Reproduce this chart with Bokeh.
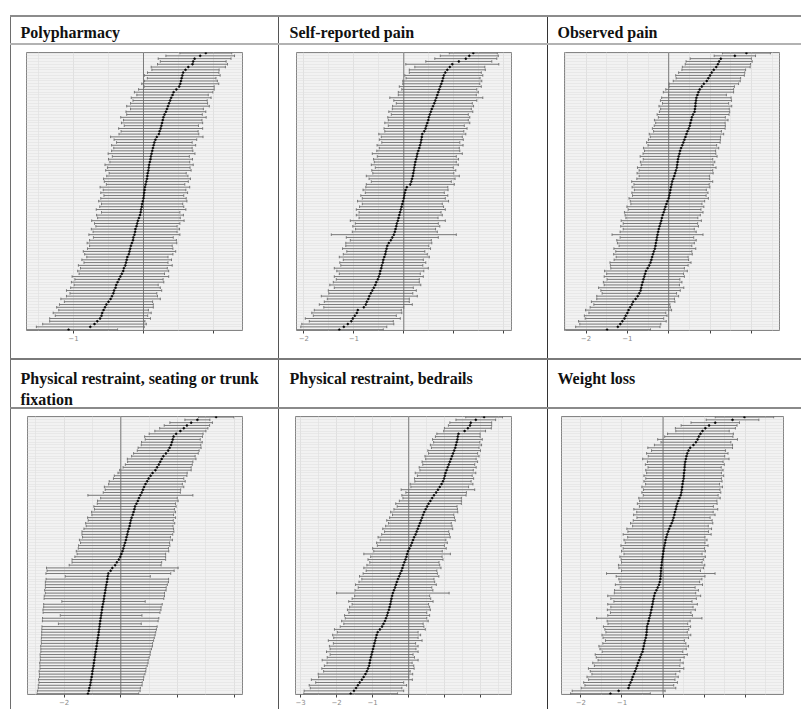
import numpy as np
from bokeh.plotting import figure
from bokeh.models import (ColumnDataSource, Range1d, FixedTicker, Grid, Whisker,
                          TeeHead, Span, Label, Div)
from bokeh.layouts import row, column
from bokeh.embed import file_html
from bokeh.resources import INLINE

# ---------------- data (random-effect estimates, sorted, and CI half-widths) -------------
titles_row1 = ["Polypharmacy", "Self-reported pain", "Observed pain"]
titles_row2 = [["Physical restraint, seating or trunk", "fixation"],
               ["Physical restraint, bedrails"], ["Weight loss"]]

est_poly = [-1.07, -0.76, -0.70, -0.66, -0.62, -0.60, -0.59, -0.57, -0.55, -0.53,
            -0.50, -0.47, -0.45, -0.43, -0.42, -0.40, -0.39, -0.37, -0.35, -0.33,
            -0.31, -0.29, -0.28, -0.26, -0.25, -0.24, -0.23, -0.21, -0.20, -0.19,
            -0.18, -0.165, -0.15, -0.145, -0.13, -0.12, -0.115, -0.10, -0.09, -0.08,
            -0.065, -0.05, -0.04, -0.035, -0.025, -0.02, -0.01, 0.0, 0.005, 0.01,
            0.015, 0.02, 0.03, 0.04, 0.05, 0.055, 0.06, 0.07, 0.075, 0.08,
            0.09, 0.10, 0.105, 0.115, 0.125, 0.135, 0.145, 0.155, 0.17, 0.19,
            0.22, 0.23, 0.245, 0.255, 0.265, 0.275, 0.285, 0.30, 0.32, 0.335,
            0.35, 0.365, 0.38, 0.395, 0.415, 0.43, 0.47, 0.51, 0.525, 0.535,
            0.545, 0.555, 0.567, 0.60, 0.64, 0.70, 0.71, 0.73, 0.81, 0.89]
hw_poly = [0.70, 0.77, 0.74, 0.68, 0.72, 0.66, 0.70, 0.64, 0.69, 0.67,
           0.63, 0.71, 0.65, 0.62, 0.68, 0.64, 0.60, 0.66, 0.63, 0.69,
           0.61, 0.65, 0.62, 0.67, 0.60, 0.64, 0.58, 0.63, 0.66, 0.61,
           0.59, 0.64, 0.62, 0.57, 0.65, 0.60, 0.63, 0.58, 0.61, 0.66,
           0.59, 0.62, 0.56, 0.64, 0.60, 0.58, 0.63, 0.61, 0.57, 0.62,
           0.59, 0.64, 0.56, 0.60, 0.62, 0.58, 0.55, 0.61, 0.59, 0.63,
           0.57, 0.60, 0.55, 0.62, 0.58, 0.56, 0.60, 0.54, 0.59, 0.66,
           0.57, 0.55, 0.60, 0.53, 0.58, 0.56, 0.61, 0.54, 0.57, 0.52,
           0.59, 0.55, 0.53, 0.57, 0.51, 0.56, 0.54, 0.50, 0.55, 0.52,
           0.49, 0.54, 0.51, 0.48, 0.53, 0.50, 0.47, 0.52, 0.49, 0.37]

est_selfpain = [-1.29, -1.20, -1.12, -1.05, -1.02, -0.98, -0.94, -0.92, -0.80, -0.76,
                -0.74, -0.71, -0.69, -0.66, -0.63, -0.60, -0.57, -0.55, -0.52, -0.50,
                -0.48, -0.47, -0.45, -0.44, -0.42, -0.41, -0.39, -0.37, -0.36, -0.345,
                -0.33, -0.30, -0.26, -0.23, -0.20, -0.18, -0.165, -0.15, -0.14, -0.12,
                -0.105, -0.09, -0.075, -0.06, -0.045, -0.03, -0.015, 0.0, 0.01, 0.02,
                0.035, 0.06, 0.13, 0.15, 0.165, 0.18, 0.19, 0.20, 0.21, 0.22,
                0.23, 0.245, 0.26, 0.27, 0.29, 0.31, 0.325, 0.34, 0.35, 0.36,
                0.37, 0.41, 0.435, 0.45, 0.47, 0.49, 0.50, 0.52, 0.54, 0.56,
                0.585, 0.61, 0.63, 0.65, 0.67, 0.69, 0.71, 0.73, 0.75, 0.77,
                0.785, 0.80, 0.83, 0.87, 0.92, 0.97, 1.10, 1.24, 1.31, 1.39]
hw_selfpain = [0.88, 0.86, 0.92, 0.84, 0.95, 0.83, 0.90, 0.87, 0.80, 0.93,
               0.85, 0.82, 0.96, 0.84, 0.88, 0.79, 0.91, 0.86, 0.83, 0.89,
               0.81, 0.87, 0.94, 0.82, 0.86, 0.80, 0.90, 0.84, 0.78, 0.88,
               0.83, 0.86, 0.81, 0.92, 1.25, 0.85, 0.80, 0.87, 0.83, 0.95,
               0.79, 0.86, 0.82, 0.89, 0.84, 0.80, 0.91, 0.83, 0.87, 0.79,
               0.85, 0.82, 0.88, 0.80, 0.86, 0.93, 0.81, 0.84, 0.78, 0.87,
               0.82, 0.85, 0.79, 0.90, 0.83, 0.80, 0.86, 0.78, 0.84, 0.81,
               0.87, 0.79, 0.83, 0.76, 0.85, 0.80, 0.82, 0.77, 0.84, 0.79,
               0.81, 0.76, 0.83, 0.93, 0.78, 0.80, 0.75, 0.82, 0.77, 0.79,
               0.74, 0.78, 0.72, 0.76, 0.70, 0.93, 0.66, 0.62, 0.58, 0.48]

est_obspain = [-1.49, -1.23, -1.17, -1.12, -1.07, -1.04, -1.00, -0.97, -0.93, -0.89,
               -0.86, -0.80, -0.75, -0.71, -0.68, -0.665, -0.65, -0.63, -0.61, -0.59,
               -0.57, -0.55, -0.51, -0.47, -0.44, -0.42, -0.40, -0.38, -0.36, -0.335,
               -0.32, -0.31, -0.295, -0.285, -0.27, -0.255, -0.24, -0.22, -0.20, -0.18,
               -0.165, -0.145, -0.12, -0.10, -0.08, -0.055, -0.03, 0.0, 0.015, 0.03,
               0.04, 0.055, 0.07, 0.085, 0.11, 0.135, 0.155, 0.175, 0.195, 0.205,
               0.215, 0.225, 0.24, 0.26, 0.275, 0.30, 0.33, 0.355, 0.38, 0.405,
               0.43, 0.455, 0.485, 0.51, 0.525, 0.545, 0.56, 0.59, 0.625, 0.635,
               0.645, 0.65, 0.66, 0.67, 0.695, 0.72, 0.75, 0.80, 0.85, 0.92,
               0.96, 1.00, 1.04, 1.09, 1.15, 1.19, 1.22, 1.26, 1.60, 1.88]
hw_obspain = [1.05, 1.02, 0.98, 1.06, 0.95, 1.00, 0.93, 1.04, 0.97, 0.92,
              1.01, 0.94, 0.99, 0.90, 0.96, 1.03, 0.91, 0.95, 0.88, 0.97,
              0.93, 1.00, 0.89, 0.94, 0.98, 0.90, 0.87, 0.95, 0.92, 0.99,
              0.88, 0.93, 0.96, 0.89, 1.10, 0.92, 0.86, 0.94, 0.90, 0.97,
              0.87, 0.91, 0.95, 0.88, 0.93, 0.86, 0.90, 0.96, 0.89, 0.92,
              0.87, 0.94, 0.91, 0.98, 0.88, 0.85, 0.92, 0.89, 0.95, 0.87,
              0.90, 0.84, 0.93, 0.88, 0.86, 0.91, 0.83, 0.89, 0.87, 0.85,
              0.90, 0.82, 0.88, 0.86, 0.84, 0.89, 0.81, 0.87, 0.85, 0.83,
              0.88, 0.80, 0.86, 0.84, 0.70, 0.85, 0.82, 0.79, 0.84, 0.81,
              0.78, 0.83, 0.80, 0.77, 0.82, 0.79, 0.80, 0.74, 0.50, 0.58]

est_seat = [-1.16, -1.13, -1.11, -1.08, -1.065, -1.05, -1.03, -1.01, -1.00, -0.98,
            -0.96, -0.95, -0.935, -0.92, -0.905, -0.89, -0.87, -0.855, -0.84, -0.825,
            -0.81, -0.79, -0.78, -0.765, -0.75, -0.74, -0.725, -0.71, -0.695, -0.68,
            -0.665, -0.65, -0.63, -0.61, -0.595, -0.58, -0.56, -0.545, -0.53, -0.51,
            -0.49, -0.475, -0.46, -0.44, -0.36, -0.30, -0.20, -0.14, -0.07, -0.02,
            0.02, 0.06, 0.09, 0.12, 0.15, 0.18, 0.20, 0.23, 0.25, 0.28,
            0.31, 0.33, 0.35, 0.38, 0.42, 0.45, 0.48, 0.50, 0.55, 0.60,
            0.64, 0.69, 0.74, 0.78, 0.82, 0.87, 0.93, 0.98, 1.05, 1.12,
            1.22, 1.28, 1.34, 1.39, 1.44, 1.50, 1.59, 1.67, 1.72, 1.77,
            1.80, 1.83, 1.86, 1.95, 2.10, 2.22, 2.33, 2.48, 2.70, 3.36]
hw_seat = [1.79, 1.81, 1.80, 1.83, 1.82, 1.85, 1.84, 1.86, 1.88, 1.87,
           1.89, 1.91, 1.90, 1.92, 1.94, 1.93, 1.95, 1.97, 1.96, 1.98,
           1.99, 2.00, 2.01, 2.02, 2.03, 1.46, 2.04, 2.05, 1.44, 2.06,
           2.08, 2.07, 2.09, 1.47, 2.11, 2.12, 2.10, 2.14, 2.13, 2.15,
           2.17, 2.16, 1.50, 2.20, 2.24, 2.32, 1.62, 1.58, 1.65, 1.60,
           1.56, 1.63, 1.59, 1.61, 1.57, 1.64, 1.55, 1.60, 1.62, 1.58,
           1.53, 1.57, 1.50, 1.55, 1.44, 1.48, 1.41, 1.45, 1.38, 1.42,
           1.35, 1.85, 1.36, 1.33, 1.40, 1.30, 1.34, 1.24, 1.28, 1.22,
           1.26, 1.20, 1.18, 1.15, 1.21, 1.12, 1.14, 1.09, 1.11, 1.05,
           1.07, 0.97, 1.02, 0.95, 0.90, 0.85, 0.80, 0.75, 0.44, 0.62]

est_bed = [-1.61, -1.52, -1.46, -1.41, -1.36, -1.30, -1.25, -1.20, -1.16, -1.13,
           -1.10, -1.085, -1.07, -1.05, -1.03, -1.01, -0.99, -0.97, -0.95, -0.93,
           -0.91, -0.89, -0.86, -0.80, -0.74, -0.70, -0.66, -0.63, -0.60, -0.58,
           -0.55, -0.53, -0.51, -0.495, -0.48, -0.46, -0.44, -0.41, -0.38, -0.355,
           -0.33, -0.30, -0.265, -0.235, -0.20, -0.175, -0.15, -0.12, -0.09, -0.065,
           -0.045, -0.02, 0.02, 0.06, 0.09, 0.12, 0.15, 0.19, 0.22, 0.25,
           0.28, 0.31, 0.34, 0.37, 0.40, 0.43, 0.47, 0.51, 0.55, 0.60,
           0.65, 0.70, 0.76, 0.81, 0.86, 0.91, 0.95, 0.98, 1.00, 1.02,
           1.05, 1.08, 1.11, 1.14, 1.17, 1.20, 1.23, 1.26, 1.29, 1.31,
           1.33, 1.35, 1.36, 1.38, 1.55, 1.64, 1.70, 1.72, 1.86, 2.09]
hw_bed = [1.30, 1.38, 1.27, 1.35, 1.22, 1.40, 1.25, 1.31, 1.20, 1.28,
          1.24, 1.18, 1.33, 1.21, 1.15, 1.27, 1.19, 1.23, 1.14, 1.30,
          1.17, 1.22, 1.12, 1.26, 1.16, 1.10, 1.20, 1.13, 1.18, 1.08,
          1.15, 1.11, 1.06, 1.17, 1.09, 1.04, 1.56, 1.08, 1.02, 1.12,
          1.05, 1.00, 1.10, 1.03, 0.98, 1.07, 1.01, 0.96, 1.04, 0.99,
          1.20, 0.95, 1.02, 0.93, 0.98, 0.91, 1.00, 0.94, 0.89, 0.97,
          0.92, 0.87, 0.95, 0.90, 0.85, 0.93, 0.88, 0.83, 0.91, 0.86,
          0.81, 0.89, 0.84, 1.02, 0.80, 0.87, 0.78, 0.82, 0.76, 0.84,
          0.74, 0.79, 0.72, 0.77, 0.70, 0.75, 0.68, 0.73, 0.66, 0.71,
          0.64, 0.69, 0.62, 0.60, 0.58, 0.65, 0.60, 0.58, 0.55, 0.51]

est_weight = [-1.28, -1.08, -0.84, -0.82, -0.79, -0.76, -0.74, -0.71, -0.68, -0.655,
              -0.63, -0.61, -0.58, -0.555, -0.53, -0.50, -0.485, -0.47, -0.455, -0.44,
              -0.42, -0.405, -0.40, -0.395, -0.39, -0.37, -0.35, -0.335, -0.315, -0.30,
              -0.285, -0.27, -0.255, -0.245, -0.23, -0.215, -0.195, -0.16, -0.13, -0.10,
              -0.08, -0.065, -0.06, -0.055, -0.05, -0.045, -0.035, -0.03, -0.02, -0.01,
              0.0, 0.01, 0.02, 0.035, 0.05, 0.06, 0.08, 0.10, 0.125, 0.15,
              0.18, 0.21, 0.235, 0.255, 0.275, 0.29, 0.31, 0.325, 0.345, 0.37,
              0.40, 0.43, 0.445, 0.455, 0.465, 0.475, 0.485, 0.50, 0.505, 0.51,
              0.52, 0.525, 0.53, 0.54, 0.555, 0.57, 0.59, 0.62, 0.66, 0.74,
              0.80, 0.84, 0.87, 0.91, 0.96, 1.03, 1.12, 1.27, 1.69, 1.98]
hw_weight = [0.97, 1.13, 1.15, 1.08, 1.14, 1.05, 1.11, 1.02, 1.09, 1.16,
             1.04, 1.10, 1.00, 1.07, 1.12, 0.98, 1.05, 1.09, 1.01, 0.96,
             1.04, 1.08, 0.99, 1.02, 1.06, 0.97, 1.01, 1.28, 1.03, 0.98,
             1.07, 1.00, 1.09, 0.95, 1.04, 1.13, 0.99, 1.02, 0.91, 1.06,
             0.97, 1.01, 1.08, 1.32, 0.96, 1.03, 1.05, 0.98, 1.00, 1.04,
             0.95, 1.02, 0.99, 1.06, 0.97, 1.01, 0.94, 1.07, 0.98, 1.03,
             0.92, 1.00, 0.96, 0.89, 0.99, 0.93, 1.02, 0.90, 0.97, 0.94,
             0.99, 0.91, 0.96, 0.93, 0.98, 0.90, 0.95, 0.92, 0.97, 0.91,
             0.94, 0.89, 0.96, 0.92, 1.05, 0.93, 0.99, 0.90, 1.03, 0.95,
             0.85, 0.97, 0.83, 0.80, 0.65, 0.73, 0.68, 0.59, 0.64, 0.71]

# axis tick values per panel (major ticks, minor gridlines, labelled ticks)
ticks_poly = [-1, 0, 1];            minor_poly = [-1.5, -0.5, 0.5];            lab_poly = [-1]
ticks_self = [-2, -1, 0, 1, 2];     minor_self = [-1.5, -0.5, 0.5, 1.5];       lab_self = [-2, -1]
ticks_obs = [-2, -1, 0, 1, 2];      minor_obs = [-2.5, -1.5, -0.5, 0.5, 1.5, 2.5]; lab_obs = [-2, -1]
ticks_seat = [-2, 0, 2, 4];         minor_seat = [-3, -1, 1, 3];               lab_seat = [-2]
ticks_bed = [-3, -2, -1, 0, 1, 2];  minor_bed = [-2.5, -1.5, -0.5, 0.5, 1.5, 2.5]; lab_bed = [-3, -2, -1]
ticks_wt = [-2, -1, 0, 1, 2];       minor_wt = [-1.5, -0.5, 0.5, 1.5, 2.5];    lab_wt = [-2, -1]

BG = "#f2f2f2"


def panel(est, hw, xlim, major, minor, shown, w, h, left, right, top, bottom):
    est = np.asarray(est, dtype=float)
    hw = np.asarray(hw, dtype=float)
    n = len(est)
    ys = np.arange(n)
    src = ColumnDataSource(dict(y=ys, est=est, lo=est - hw, hi=est + hw))
    p = figure(width=w, height=h, x_range=Range1d(*xlim), y_range=Range1d(-0.3, n - 0.8),
               output_backend="svg", toolbar_location=None, y_axis_location=None,
               min_border_left=left, min_border_right=right, min_border_top=top,
               min_border_bottom=bottom, background_fill_color=BG,
               border_fill_color="white", outline_line_color="#858585", outline_line_width=1)
    p.center = [r for r in p.center if not isinstance(r, Grid)]
    gx = Grid(dimension=0, ticker=FixedTicker(ticks=major, minor_ticks=minor),
              grid_line_color="#e0e0e0", grid_line_width=1,
              minor_grid_line_color="#e6e6e6", minor_grid_line_width=1, level="image")
    gy = Grid(dimension=1, ticker=FixedTicker(ticks=list(range(n))),
              grid_line_color="#e1e1e1", grid_line_width=0.6, level="image")
    p.add_layout(gx)
    p.add_layout(gy)
    p.add_layout(Span(location=0, dimension="height", line_color="#7a7a7a",
                      line_width=1, level="underlay"))
    wk = Whisker(source=src, base="y", lower="lo", upper="hi", dimension="width",
                 line_color="#6c6c6c", line_width=0.9, level="underlay",
                 upper_head=TeeHead(size=2.5, line_color="#6c6c6c", line_width=0.9),
                 lower_head=TeeHead(size=2.5, line_color="#6c6c6c", line_width=0.9))
    p.add_layout(wk)
    p.scatter("est", "y", source=src, size=2.0, marker="circle",
              fill_color="black", line_color="black", line_width=0.5)
    ax = p.xaxis[0]
    ax.ticker = FixedTicker(ticks=major)
    ax.major_label_overrides = {t: "" for t in major if t not in shown}
    ax.axis_line_color = None
    ax.major_tick_out = 3
    ax.major_tick_in = 0
    ax.major_tick_line_color = "#444444"
    ax.minor_tick_line_color = None
    ax.major_label_standoff = 1
    ax.major_label_text_font = "DejaVu Sans"
    ax.major_label_text_font_size = "7px"
    ax.major_label_text_color = "#8a8a8a"
    return p


def header(lines, w, h):
    p = figure(width=w, height=h, x_range=Range1d(0, w), y_range=Range1d(0, h),
               output_backend="svg", toolbar_location=None, x_axis_location=None,
               y_axis_location=None, min_border=0, outline_line_color=None,
               background_fill_color="white", border_fill_color="white")
    p.center = [r for r in p.center if not isinstance(r, Grid)]
    for text, x, y in lines:
        p.add_layout(Label(x=x, y=y, text=text, text_font="Liberation Serif",
                           text_font_style="bold", text_font_size="16px",
                           text_color="#111111", text_baseline="alphabetic"))
    return p


def bar(w, h, color):
    return Div(width=w, height=h, margin=0, text="", styles={"background-color": color})


def blank(w, h):
    return bar(w, h, "white")


PAD_L, PAD_T = 10, 15
W1, W2, W3 = 267, 268, 253
TOTAL_W = PAD_L + 1 + W1 + 1 + W2 + 1 + W3


def trow(h, cells):
    return row([blank(PAD_L, h), bar(1, h, "#6e6e6e"), cells[0], bar(1, h, "#555555"),
                cells[1], bar(1, h, "#333333"), cells[2]], spacing=0, margin=0)


def hline(color, h=2):
    return row([blank(PAD_L, h), bar(TOTAL_W - PAD_L, h, color)], spacing=0, margin=0)


H1, HP1, H2, HP2 = 26, 313, 47, 300

hdr1 = [header([(titles_row1[0], 9, 11)], W1, H1),
        header([(titles_row1[1], 10, 11)], W2, H1),
        header([(titles_row1[2], 9, 11)], W3, H1)]
hdr2 = [header([(titles_row2[0][0], 9, 29), (titles_row2[0][1], 9, 8)], W1, H2),
        header([(titles_row2[1][0], 10, 29)], W2, H2),
        header([(titles_row2[2][0], 9, 29)], W3, H2)]

pan1 = [panel(est_poly, hw_poly, (-1.671, 1.414), ticks_poly, minor_poly, lab_poly,
              W1, HP1, 15, 36, 7, 27),
        panel(est_selfpain, hw_selfpain, (-2.146, 2.154), ticks_self, minor_self, lab_self,
              W2, HP1, 17, 36, 7, 28),
        panel(est_obspain, hw_obspain, (-2.52, 2.68), ticks_obs, minor_obs, lab_obs,
              W3, HP1, 16, 22, 7, 28)]
pan2 = [panel(est_seat, hw_seat, (-3.29, 4.29), ticks_seat, minor_seat, lab_seat,
              W1, HP2, 16, 36, 6, 15),
        panel(est_bed, hw_bed, (-3.14, 2.85), ticks_bed, minor_bed, lab_bed,
              W2, HP2, 16, 36, 7, 15),
        panel(est_weight, hw_weight, (-2.47, 2.93), ticks_wt, minor_wt, lab_wt,
              W3, HP2, 13, 18, 3, 12)]

layout = column([blank(TOTAL_W, PAD_T), hline("#8c8c8c"), trow(H1, hdr1), hline("#b2b2b2"),
                 trow(HP1, pan1), hline("#7a7a7a"), trow(H2, hdr2), hline("#8a8a8a"),
                 trow(HP2, pan2)], spacing=0, margin=0)

open("out.html", "w").write(file_html(layout, INLINE))
